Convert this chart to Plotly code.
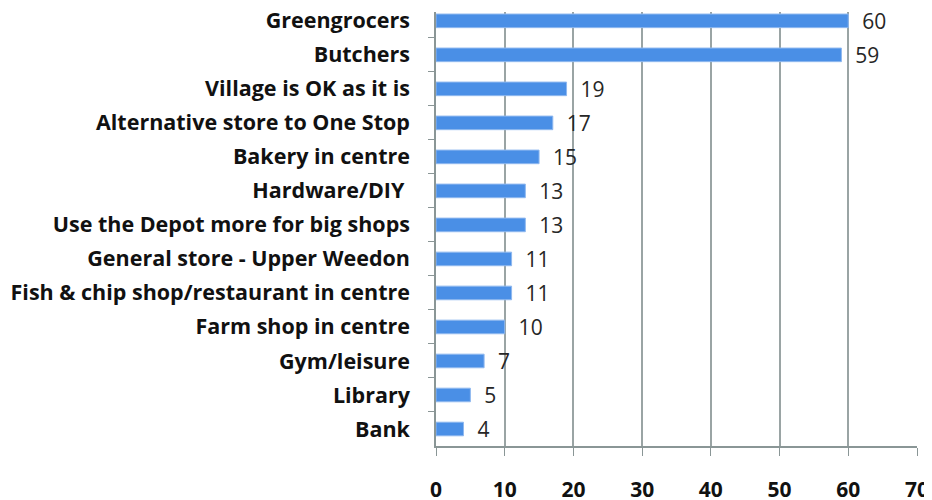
import plotly.graph_objects as go

categories = ["Greengrocers", "Butchers", "Village is OK as it is", "Alternative store to One Stop",
              "Bakery in centre", "Hardware/DIY ", "Use the Depot more for big shops",
              "General store - Upper Weedon", "Fish & chip shop/restaurant in centre",
              "Farm shop in centre", "Gym/leisure", "Library", "Bank"]
values = [60, 59, 19, 17, 15, 13, 13, 11, 11, 10, 7, 5, 4]
x_ticks = [0, 10, 20, 30, 40, 50, 60, 70]

fig = go.Figure(go.Bar(
    x=values, y=categories, orientation="h",
    marker=dict(color="#4a8fe6", line=dict(color="#8fb8ef", width=1)),
    width=0.4,
    text=values, texttemplate="  %{x}", textposition="outside",
    constraintext="none",
    textfont=dict(family="Open Sans", size=21, color="#262626"),
    cliponaxis=False,
))

# page body has an 8px margin; figure sized so it fills the 932x500 window
fig.update_layout(
    width=924, height=492,
    margin=dict(l=428, r=15, t=4, b=54, autoexpand=False),
    plot_bgcolor="white", paper_bgcolor="white",
    showlegend=False,
    font=dict(family="Open Sans", size=21, color="#111111"),
)
fig.update_yaxes(
    range=[12.5, -0.26], tickson="boundaries", ticks="outside", ticklen=6,
    tickcolor="#8a9696", showline=True, linecolor="#8a9696", linewidth=1.5,
    showgrid=False, tickfont=dict(family="Open Sans", size=21.5, color="#111111", weight="bold"),
    ticklabelstandoff=20,
)
fig.update_xaxes(
    range=[0, 70], tickvals=x_ticks, ticks="outside", ticklen=8, tickcolor="#8a9696",
    showline=True, linecolor="#8a9696", linewidth=1.5,
    showgrid=True, gridcolor="#9aa4a4", gridwidth=1.5, zeroline=False,
    tickfont=dict(family="Open Sans", size=21, color="#111111", weight="bold"),
    ticklabelstandoff=16,
)

fig.write_html("out.html")
